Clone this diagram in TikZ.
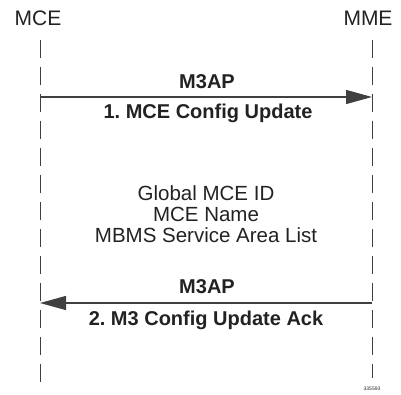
\documentclass[tikz,border=0pt]{standalone}
\usepackage{fontspec}
\setmainfont{Liberation Sans}
\usetikzlibrary{arrows.meta}

\definecolor{linegray}{HTML}{404040}
\definecolor{textgray}{HTML}{222222}

\begin{document}
\frenchspacing
\begin{tikzpicture}[x=1pt, y=-1pt]
	\useasboundingbox (0,0) rectangle (401,395);
	% lifelines
	\coordinate (MCEtop) at (40,40);
	\coordinate (MCEbot) at (40,386);
	\coordinate (MMEtop) at (372,40);
	\coordinate (MMEbot) at (372,378);
	\coordinate (A1) at (40,97);
	\coordinate (B1) at (372,97);
	\coordinate (A2) at (372,303);
	\coordinate (B2) at (40,303);
	\begin{scope}[every node/.style = {text = textgray, inner sep = 0pt}]
		\node[font = \fontsize{21}{24}\selectfont] (MCE) at (38,18) {MCE};
		\node[font = \fontsize{21}{24}\selectfont] (MME) at (368,18) {MME};
		\node[font = \bfseries\fontsize{20}{23}\selectfont] (proto1) at (207,82) {M3AP};
		\node[font = \bfseries\fontsize{20}{23}\selectfont] (msg1) at (208,113) {1. MCE Config Update};
		\node[font = \fontsize{20.5}{21}\selectfont, align = center] (ies) at (206,214)
			{Global MCE ID\\MCE Name\\MBMS Service Area List};
		\node[font = \bfseries\fontsize{20}{23}\selectfont] (proto2) at (207,287) {M3AP};
		\node[font = \bfseries\fontsize{20}{23}\selectfont] (msg2) at (206,320) {2. M3 Config Update Ack};
		\node[font = \fontsize{5}{6}\selectfont] (fignum) at (372,389) {335593};
	\end{scope}
	\begin{scope}[every path/.style = {draw = linegray, line width = 1pt, dash pattern = on 18pt off 9pt}]
		\path (MCEtop) -- (MCEbot);
		\path (MMEtop) -- (MMEbot);
	\end{scope}
	\begin{scope}[>={Triangle[length = 26pt, width = 14pt, fill = linegray]},
			every edge/.style = {draw = linegray, line width = 1.2pt}]
		\path [->] (A1) edge (B1);
		\path [->] (A2) edge (B2);
	\end{scope}
\end{tikzpicture}
\end{document}
